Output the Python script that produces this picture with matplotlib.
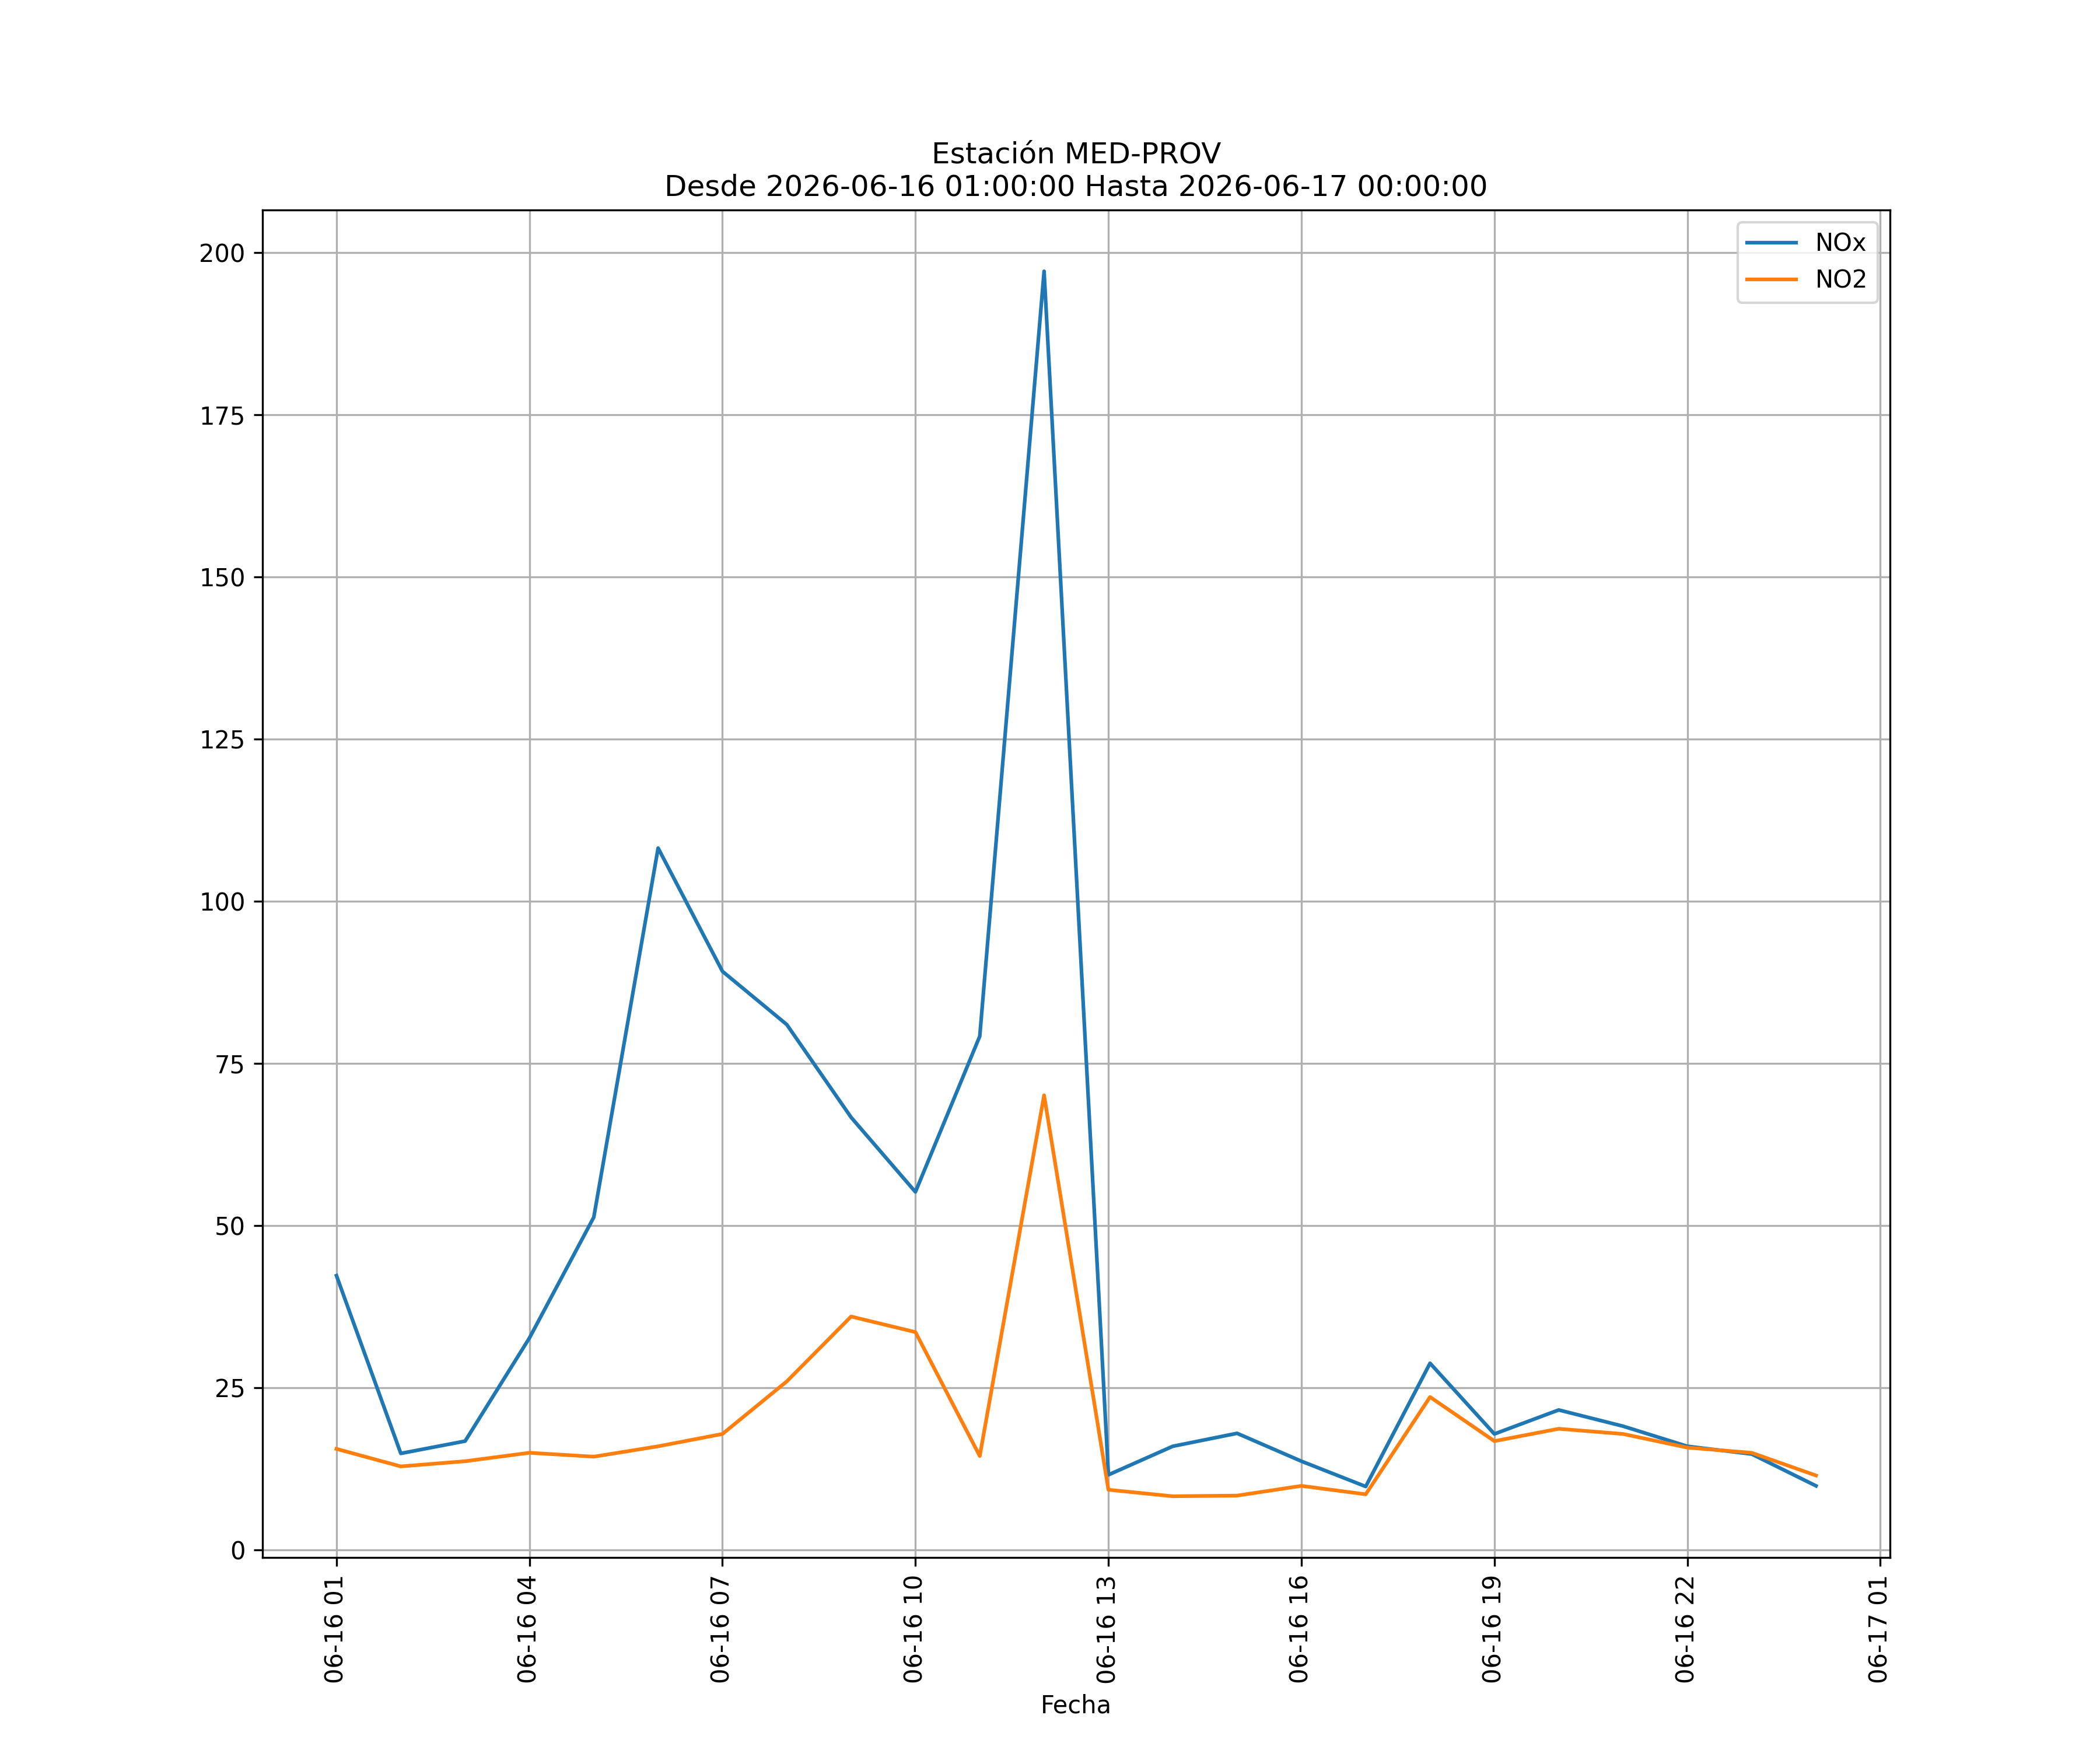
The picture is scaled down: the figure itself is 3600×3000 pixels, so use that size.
import matplotlib
matplotlib.use("Agg")
import matplotlib.pyplot as plt
import matplotlib.dates as mdates
import pandas as pd

fechas = pd.date_range("2026-06-16 01:00:00", "2026-06-17 00:00:00", freq="h")
nox = [42.3, 14.9, 16.8, 32.7, 51.3, 108.2, 89.2, 81.0, 66.7, 55.2, 79.2, 197.1,
       11.6, 16.0, 18.0, 13.7, 9.8, 28.8, 17.9, 21.6, 19.1, 16.0, 14.8, 9.9]
no2 = [15.6, 12.9, 13.7, 15.0, 14.4, 16.0, 17.9, 26.0, 36.0, 33.6, 14.5, 70.1,
       9.3, 8.3, 8.4, 9.9, 8.6, 23.6, 16.8, 18.7, 17.9, 15.8, 15.0, 11.5]

fig, ax = plt.subplots(figsize=(12, 10), dpi=300)
ax.plot(fechas, nox, label="NOx")
ax.plot(fechas, no2, label="NO2")
ax.set_title("Estación MED-PROV\nDesde 2026-06-16 01:00:00 Hasta 2026-06-17 00:00:00")
ax.set_xlabel("Fecha")
ax.xaxis.set_major_locator(mdates.HourLocator(byhour=range(1, 24, 3)))
ax.xaxis.set_major_formatter(mdates.DateFormatter("%m-%d %H"))
plt.setp(ax.get_xticklabels(), rotation=90)
ax.grid(True)
ax.legend(loc="upper right")
fig.savefig("out.png")
